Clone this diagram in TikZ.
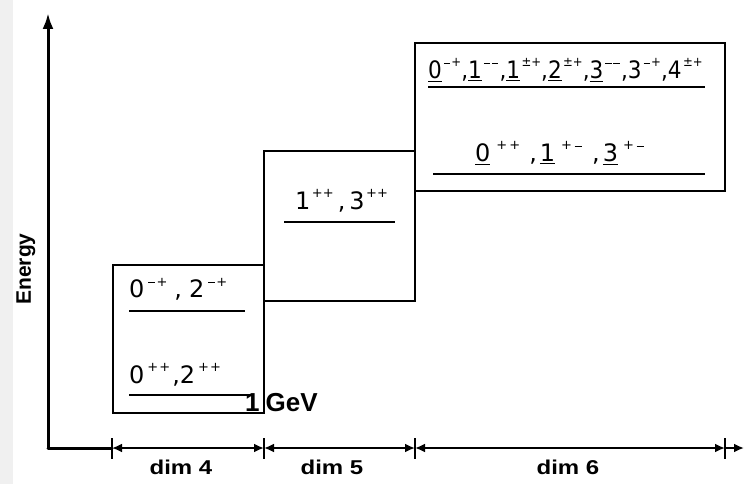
\documentclass[tikz,border=0pt]{standalone}
\usepackage{fontspec}
\setmainfont{DejaVu Sans}
\newfontfamily\labelfont{Liberation Sans}
\usetikzlibrary{arrows.meta}

% a level label: digit with a small raised parity/charge pair
% (optional argument: gap between digit and pair)
\newcommand\lvl[3][1.5pt]{#2\raisebox{0.5em}{\fontsize{13}{13}\selectfont\kern#1#3}}
% the same, with the digit underlined
\newcommand\ulvl[3][1.5pt]{\underline{#2}\raisebox{0.5em}{\fontsize{13}{13}\selectfont\kern#1#3}}
% a short minus sign for the raised pairs
\newcommand\mi{\kern0.05em\raisebox{0.2em}{\rule{0.55em}{0.12em}}\kern0.1em}

\tikzset{
  axis/.style={line width=3pt, line cap=round},
  boxline/.style={line width=2pt},
  levelline/.style={line width=2.4pt},
  levtext/.style={font=\fontsize{24}{24}\selectfont, inner sep=0pt, anchor=base west},
  dimtext/.style={font=\labelfont\bfseries\fontsize{20}{20}\selectfont, inner sep=0pt},
  dimarrow/.style={line width=2.4pt, {Latex[length=10pt,width=9pt]}-{Latex[length=10pt,width=9pt]}},
  tick/.style={line width=2pt},
}

\begin{document}
\begin{tikzpicture}[x=1pt,y=-1pt]
\useasboundingbox (0,0) rectangle (745,484);
\fill[black!6] (0,0) rectangle (13,484);

% axes
\coordinate (O) at (48,448);
\coordinate (top) at (48,13);
\coordinate (right) at (744,448);
\draw[axis, -{Latex[length=16pt,width=11pt]}] (O) -- (top);
\draw[axis] (O) -- (112,448);
\node[font=\labelfont\bfseries\fontsize{21}{21}\selectfont, rotate=90, inner sep=0pt] (energy) at (26,269) {Energy};

% ticks on the dimension axis
\foreach \n/\x in {t4/112, t5/264, t6/415, t7/725}{
  \coordinate (\n) at (\x,448);
  \draw[tick] (\x,438) -- (\x,459);
}
\draw[dimarrow] (t4) -- (t5);
\draw[dimarrow] (t5) -- (t6);
\draw[dimarrow] (t6) -- (t7);
\draw[line width=2.4pt, -{Latex[length=10pt,width=9pt]}] (t7) -- (right);

\node[dimtext] (d4) at (181,467) {\scalebox{1.2}[1]{dim 4}};
\node[dimtext] (d5) at (332,467) {\scalebox{1.2}[1]{dim 5}};
\node[dimtext] (d6) at (568,467) {\scalebox{1.2}[1]{dim 6}};

% boxes
\draw[boxline] (113,265) rectangle (264,413);
\draw[boxline] (264,151) rectangle (415,301);
\draw[boxline] (415,43) rectangle (725,191);

% dimension 4
\node[levtext] (a1) at (129,298) {\lvl[3pt]{0}{\mi+}\kern7pt,\kern7pt\lvl[3pt]{2}{\mi+}};
\draw[levelline] (129,311) -- (245,311);
\node[levtext] (a2) at (129,383) {\lvl[3pt]{0}{+\kern1pt+}\kern2pt,\lvl[3pt]{2}{+\kern1pt+}};
\draw[levelline] (129,395) -- (252,395);
\node[font=\labelfont\bfseries\fontsize{26}{26}\selectfont, inner sep=0pt, anchor=base west] (gev) at (245,411) {1\kern6pt GeV};

% dimension 5
\node[levtext] (b1) at (295,210) {\lvl{1}{++}\,,\,\lvl{3}{++}};
\draw[levelline] (284,222) -- (395,222);

% dimension 6
\node[levtext] (c1) at (428,79) {\scalebox{0.9}[1]{\ulvl{0}{\mi+},\ulvl{1}{\mi\mi},\ulvl{1}{±+},\ulvl{2}{±+},\ulvl{3}{\mi\mi},\lvl{3}{\mi+},\lvl{4}{±+}}};
\draw[levelline] (428,87) -- (705,87);
\node[levtext] (c2) at (475,162) {\ulvl[6pt]{0}{+\kern2pt+}\kern9pt,\kern3pt\ulvl[6pt]{1}{+\kern2pt\mi}\kern9pt,\kern3pt\ulvl[5pt]{3}{+\kern2pt\mi}};
\draw[levelline] (433,174) -- (705,174);
\end{tikzpicture}
\end{document}
